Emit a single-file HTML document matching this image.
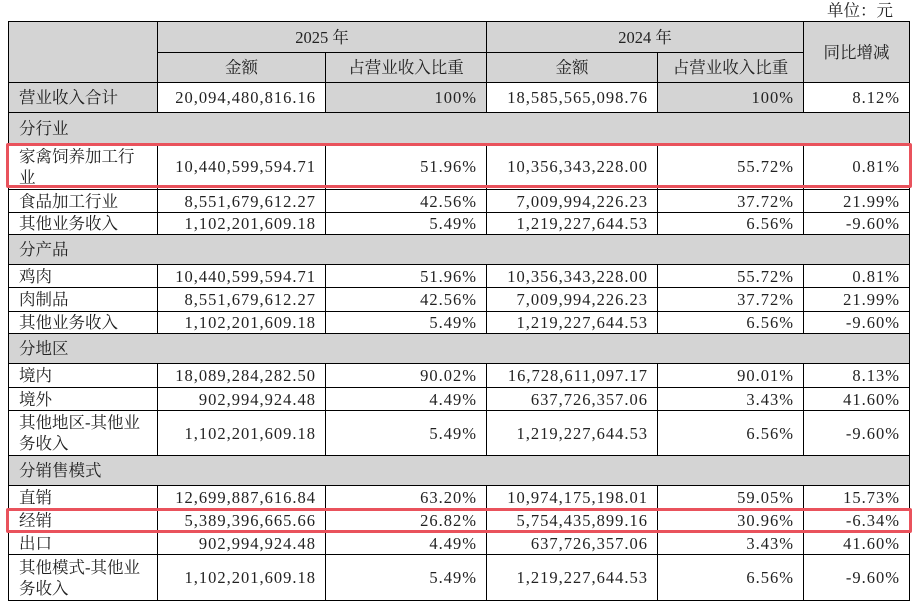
<!DOCTYPE html>
<html><head><meta charset="utf-8"><style>
body{margin:0;width:915px;height:604px;background:#fff;position:relative;overflow:hidden;font-family:"Liberation Serif","Noto Serif CJK SC",serif;color:#222;font-size:16.5px}
table{position:absolute;left:8px;top:21px;border-collapse:collapse;table-layout:fixed}
td{border:1px solid #000;padding:0 10px;line-height:21px;white-space:nowrap;overflow:hidden}
.g{background:#d4d4d4}
.c{text-align:center}
.r{text-align:right;letter-spacing:1px;padding-right:9px}
.l{text-align:left}
.unit{position:absolute;right:22px;top:-3px;font-size:16.5px}
.box{position:absolute;border:3px solid #e9525c;border-radius:2px;box-sizing:border-box}
</style></head><body>
<div class="unit">单位：元</div>
<table>
<colgroup><col style="width:149px"><col style="width:168px"><col style="width:161px"><col style="width:171px"><col style="width:146px"><col style="width:106px"></colgroup>
<tr style="height:31px"><td class="g" rowspan="2"></td><td class="g c" colspan="2">2025 年</td><td class="g c" colspan="2">2024 年</td><td class="g c" rowspan="2">同比增减</td></tr>
<tr style="height:30px"><td class="g c">金额</td><td class="g c">占营业收入比重</td><td class="g c">金额</td><td class="g c">占营业收入比重</td></tr>
<tr style="height:30px"><td class="g l">营业收入合计</td><td class="r">20,094,480,816.16</td><td class="g r">100%</td><td class="r">18,585,565,098.76</td><td class="g r">100%</td><td class="r">8.12%</td></tr>
<tr style="height:31px"><td class="g l" colspan="6">分行业</td></tr>
<tr style="height:46px"><td class="l">家禽饲养加工行<br>业</td><td class="r">10,440,599,594.71</td><td class="r">51.96%</td><td class="r">10,356,343,228.00</td><td class="r">55.72%</td><td class="r">0.81%</td></tr>
<tr style="height:23px"><td class="l">食品加工行业</td><td class="r">8,551,679,612.27</td><td class="r">42.56%</td><td class="r">7,009,994,226.23</td><td class="r">37.72%</td><td class="r">21.99%</td></tr>
<tr style="height:22px"><td class="l">其他业务收入</td><td class="r">1,102,201,609.18</td><td class="r">5.49%</td><td class="r">1,219,227,644.53</td><td class="r">6.56%</td><td class="r">-9.60%</td></tr>
<tr style="height:30px"><td class="g l" colspan="6">分产品</td></tr>
<tr style="height:23px"><td class="l">鸡肉</td><td class="r">10,440,599,594.71</td><td class="r">51.96%</td><td class="r">10,356,343,228.00</td><td class="r">55.72%</td><td class="r">0.81%</td></tr>
<tr style="height:24px"><td class="l">肉制品</td><td class="r">8,551,679,612.27</td><td class="r">42.56%</td><td class="r">7,009,994,226.23</td><td class="r">37.72%</td><td class="r">21.99%</td></tr>
<tr style="height:22px"><td class="l">其他业务收入</td><td class="r">1,102,201,609.18</td><td class="r">5.49%</td><td class="r">1,219,227,644.53</td><td class="r">6.56%</td><td class="r">-9.60%</td></tr>
<tr style="height:30px"><td class="g l" colspan="6">分地区</td></tr>
<tr style="height:24px"><td class="l">境内</td><td class="r">18,089,284,282.50</td><td class="r">90.02%</td><td class="r">16,728,611,097.17</td><td class="r">90.01%</td><td class="r">8.13%</td></tr>
<tr style="height:23px"><td class="l">境外</td><td class="r">902,994,924.48</td><td class="r">4.49%</td><td class="r">637,726,357.06</td><td class="r">3.43%</td><td class="r">41.60%</td></tr>
<tr style="height:45px"><td class="l">其他地区-其他业<br>务收入</td><td class="r">1,102,201,609.18</td><td class="r">5.49%</td><td class="r">1,219,227,644.53</td><td class="r">6.56%</td><td class="r">-9.60%</td></tr>
<tr style="height:30px"><td class="g l" colspan="6">分销售模式</td></tr>
<tr style="height:23px"><td class="l">直销</td><td class="r">12,699,887,616.84</td><td class="r">63.20%</td><td class="r">10,974,175,198.01</td><td class="r">59.05%</td><td class="r">15.73%</td></tr>
<tr style="height:23px"><td class="l">经销</td><td class="r">5,389,396,665.66</td><td class="r">26.82%</td><td class="r">5,754,435,899.16</td><td class="r">30.96%</td><td class="r">-6.34%</td></tr>
<tr style="height:23px"><td class="l">出口</td><td class="r">902,994,924.48</td><td class="r">4.49%</td><td class="r">637,726,357.06</td><td class="r">3.43%</td><td class="r">41.60%</td></tr>
<tr style="height:46px"><td class="l">其他模式-其他业<br>务收入</td><td class="r">1,102,201,609.18</td><td class="r">5.49%</td><td class="r">1,219,227,644.53</td><td class="r">6.56%</td><td class="r">-9.60%</td></tr>
</table>
<div class="box" style="left:6px;top:143px;width:906px;height:45px"></div>
<div class="box" style="left:6px;top:508px;width:906px;height:25px"></div>
</body></html>
